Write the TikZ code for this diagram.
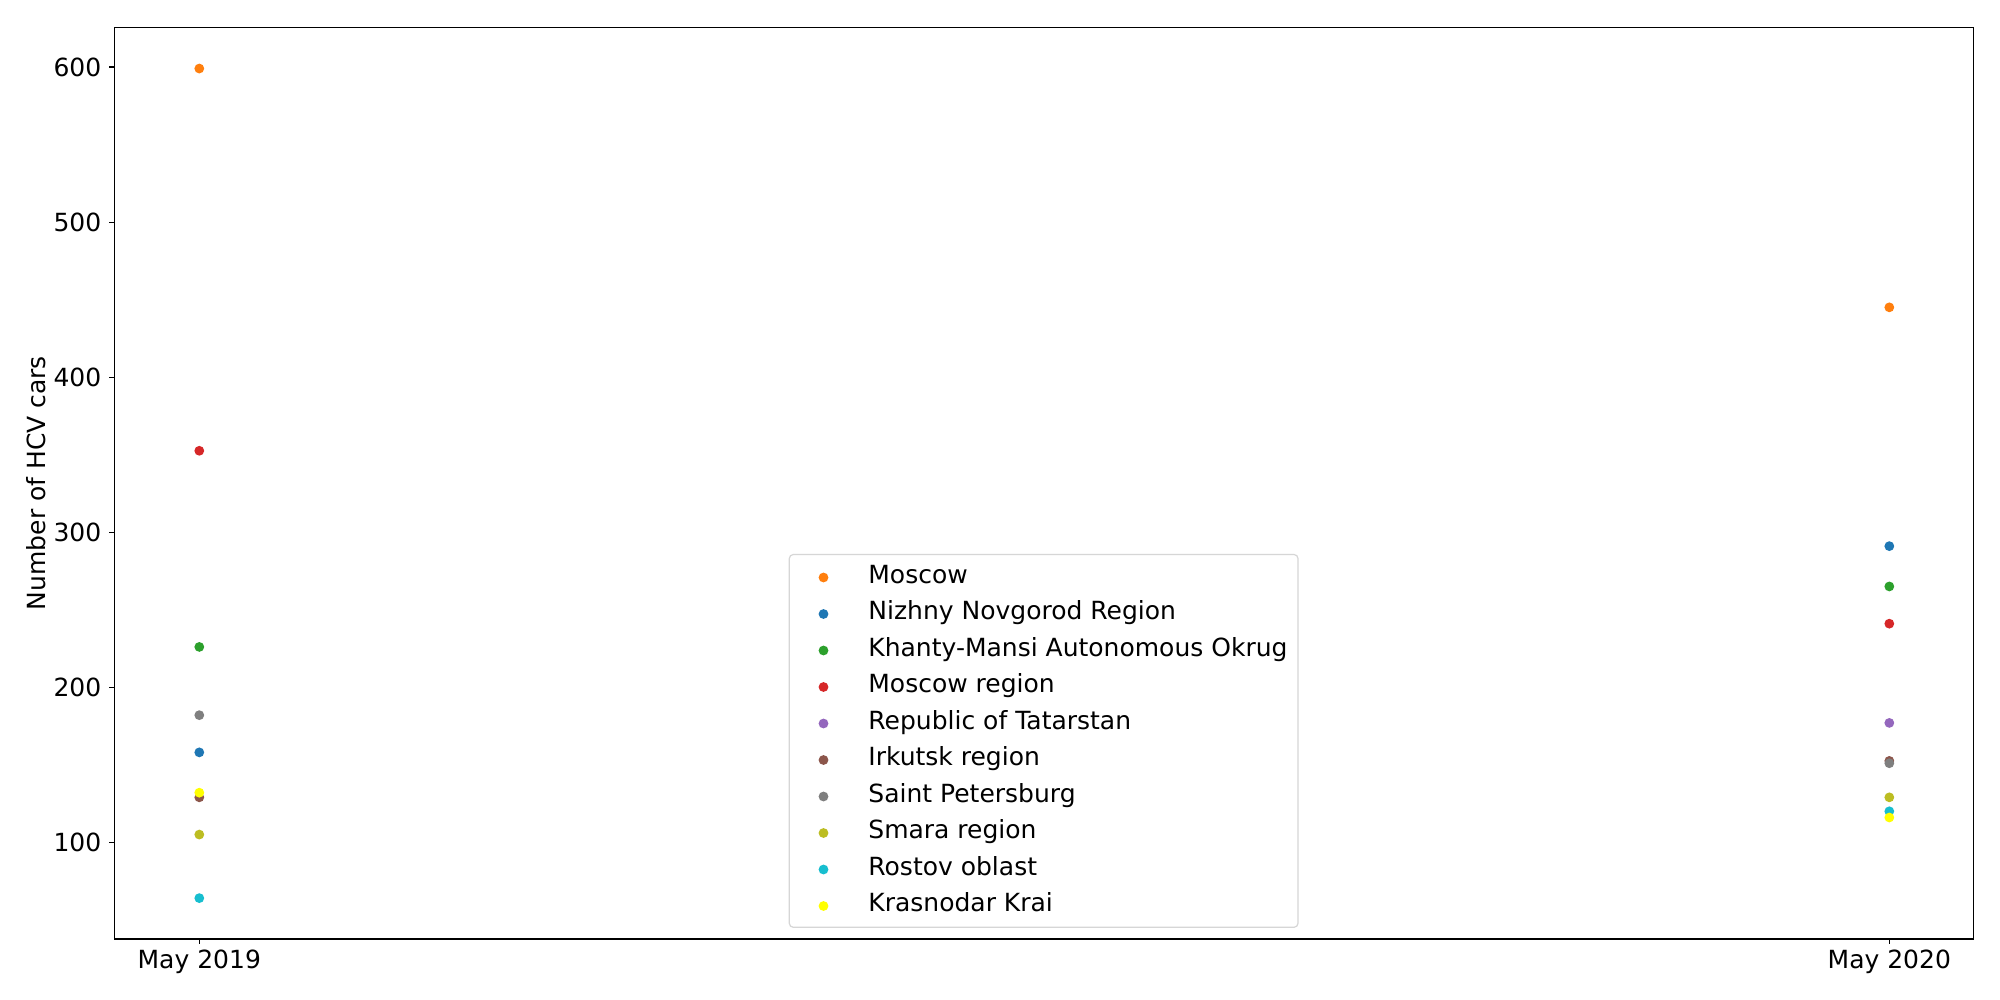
\documentclass[tikz,border=0pt]{standalone}
\usepackage{fontspec}
\setmainfont{DejaVu Sans}
\definecolor{cOrange}{HTML}{FF7F0E}
\definecolor{cBlue}{HTML}{1F77B4}
\definecolor{cGreen}{HTML}{2CA02C}
\definecolor{cRed}{HTML}{D62728}
\definecolor{cPurple}{HTML}{9467BD}
\definecolor{cBrown}{HTML}{8C564B}
\definecolor{cGray}{HTML}{7F7F7F}
\definecolor{cOlive}{HTML}{BCBD22}
\definecolor{cCyan}{HTML}{17BECF}
\definecolor{cYellow}{HTML}{FFFF00}
\definecolor{cEdge}{HTML}{D6D6D6}
\newcommand{\vy}[1]{842.3-(#1-100)*1.5506}
\begin{document}
\begin{tikzpicture}[x=0.5pt,y=-0.5pt,
  dot/.style={circle,inner sep=0pt,minimum size=4.9pt,draw=none},
  ticklbl/.style={font=\fontsize{12.5pt}{15pt}\selectfont,inner sep=0pt},
  leglbl/.style={font=\fontsize{12.5pt}{15pt}\selectfont,inner sep=0pt,anchor=base west},
  axisline/.style={line width=0.55pt,black}]
\useasboundingbox (0,0) rectangle (2000,1000);
\fill[white] (0,0) rectangle (2000,1000);
% axes frame
\coordinate (axNW) at (114.3,27.3);
\coordinate (axSE) at (1973.3,939);
\draw[axisline] (axNW) rectangle (axSE);
% y ticks
\foreach \v in {100,200,300,400,500,600}{
  \coordinate (yt\v) at (114.3,{\vy{\v}});
  \draw[axisline] (yt\v) -- ++(-4.9,0);
  \node[ticklbl,anchor=base east] (ytl\v) at (101.7,{\vy{\v}+9.1}) {\v};
}
% x ticks
\coordinate (xt1) at (199.3,939);
\coordinate (xt2) at (1889.3,939);
\draw[axisline] (xt1) -- ++(0,4.9);
\draw[axisline] (xt2) -- ++(0,4.9);
\node[ticklbl,anchor=base] (xtl1) at (199.3,968.3) {May 2019};
\node[ticklbl,anchor=base] (xtl2) at (1889.3,968.3) {May 2020};
% y label
\node[ticklbl,rotate=90,anchor=base] (ylab) at (45,483) {Number of HCV cars};
% data (drawn in series order)
\node[dot,fill=cOrange] (a1) at (199.3,{\vy{599}}) {};
\node[dot,fill=cOrange] (a2) at (1889.3,{\vy{445}}) {};
\node[dot,fill=cBlue] (b1) at (199.3,{\vy{158}}) {};
\node[dot,fill=cBlue] (b2) at (1889.3,{\vy{291}}) {};
\node[dot,fill=cGreen] (c1) at (199.3,{\vy{226}}) {};
\node[dot,fill=cGreen] (c2) at (1889.3,{\vy{265}}) {};
\node[dot,fill=cRed] (d1) at (199.3,{\vy{352.5}}) {};
\node[dot,fill=cRed] (d2) at (1889.3,{\vy{241}}) {};
\node[dot,fill=cPurple] (e2) at (1889.3,{\vy{177}}) {};
\node[dot,fill=cBrown] (f1) at (199.3,{\vy{129}}) {};
\node[dot,fill=cBrown] (f2) at (1889.3,{\vy{152.5}}) {};
\node[dot,fill=cGray] (g1) at (199.3,{\vy{182}}) {};
\node[dot,fill=cGray] (g2) at (1889.3,{\vy{151}}) {};
\node[dot,fill=cOlive] (h1) at (199.3,{\vy{105}}) {};
\node[dot,fill=cOlive] (h2) at (1889.3,{\vy{129}}) {};
\node[dot,fill=cCyan] (i1) at (199.3,{\vy{64}}) {};
\node[dot,fill=cCyan] (i2) at (1889.3,{\vy{120}}) {};
\node[dot,fill=cYellow] (j1) at (199.3,{\vy{132}}) {};
\node[dot,fill=cYellow] (j2) at (1889.3,{\vy{116}}) {};
% legend
\draw[cEdge,line width=0.6pt,fill=white,fill opacity=0.8,rounded corners=2pt] (789.3,554.5) rectangle (1298,927.3);
\foreach \c/\t [count=\i from 0] in {cOrange/Moscow,cBlue/Nizhny Novgorod Region,cGreen/Khanty-Mansi Autonomous Okrug,cRed/Moscow region,cPurple/Republic of Tatarstan,cBrown/Irkutsk region,cGray/Saint Petersburg,cOlive/Smara region,cCyan/Rostov oblast,cYellow/Krasnodar Krai}{
  \node[dot,fill=\c] (lm\i) at (823.5,{577.5+36.5*\i}) {};
  \node[leglbl] (lt\i) at (868,{583.3+36.5*\i}) {\t};
}
\end{tikzpicture}
\end{document}
